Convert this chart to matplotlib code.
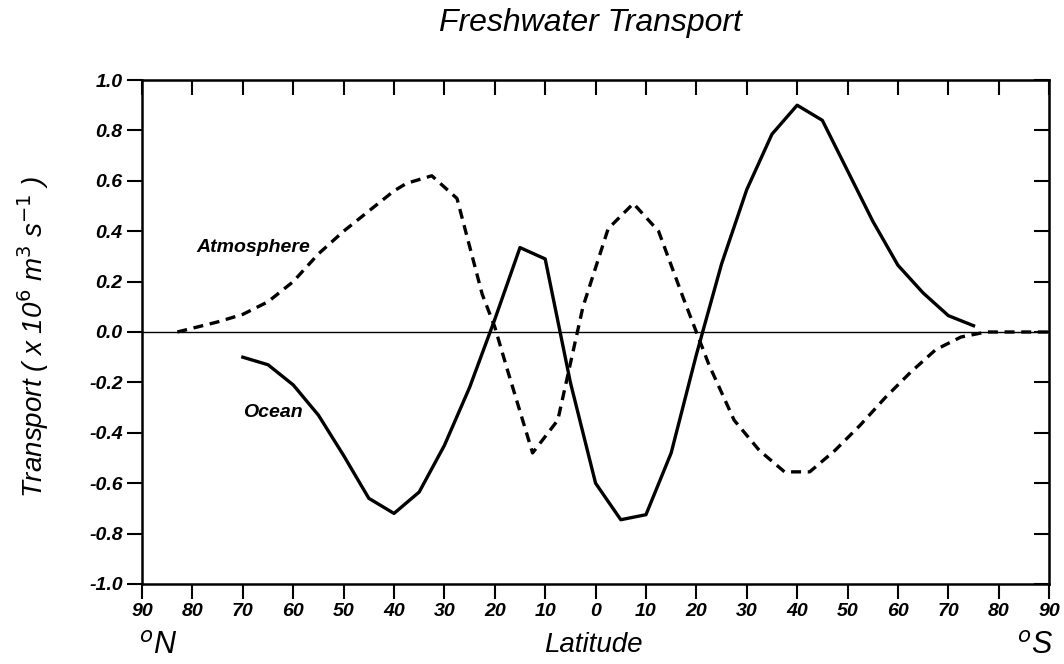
import matplotlib.pyplot as plt

plt.rcParams['font.family'] = ['Liberation Sans', 'DejaVu Sans']

# latitude axis: negative = north, positive = south
atm_lat = [-83, -80, -75, -70, -65, -60, -55, -50, -45, -40, -37.5, -32.5, -27.5,
           -22.5, -20, -17.5, -12.5, -7.5, -2.5, 2.5, 7.5, 12.5, 17.5, 22.5, 27.5,
           32.5, 37.5, 42.5, 47.5, 52.5, 57.5, 62.5, 67.5, 72.5, 77.5, 90]
atm_val = [0.0, 0.015, 0.04, 0.07, 0.12, 0.20, 0.31, 0.40, 0.48, 0.56, 0.59, 0.62, 0.53,
           0.15, 0.02, -0.15, -0.48, -0.35, 0.10, 0.41, 0.51, 0.40, 0.13, -0.13, -0.35,
           -0.47, -0.555, -0.555, -0.47, -0.37, -0.26, -0.16, -0.07, -0.02, 0.0, 0.0]

ocean_lat = [-70, -65, -60, -55, -50, -45, -40, -35, -30, -25, -20, -15, -10, -5,
             0, 5, 10, 15, 20, 25, 30, 35, 40, 45, 50, 55, 60, 65, 70, 75]
ocean_val = [-0.10, -0.13, -0.21, -0.33, -0.49, -0.66, -0.72, -0.635, -0.45, -0.22,
             0.05, 0.335, 0.29, -0.20, -0.60, -0.745, -0.725, -0.48, -0.09, 0.27,
             0.565, 0.785, 0.90, 0.84, 0.64, 0.44, 0.265, 0.155, 0.065, 0.025]

xticks = list(range(-90, 91, 10))
xlabels = [str(abs(t)) for t in xticks]
yticks = [round(-1.0 + 0.2 * i, 1) for i in range(11)]
ylabels = ['%.1f' % t for t in yticks]

fig = plt.figure(figsize=(10.64, 6.64), dpi=100)
ax = fig.add_axes([0.1335, 0.1205, 0.8525, 0.759])

ax.axhline(0, color='black', lw=1.0)
ax.plot(ocean_lat, ocean_val, color='black', lw=2.4)
ax.plot(atm_lat, atm_val, color='black', lw=2.4, dashes=(3.0, 2.0))

ax.set_xlim(-90, 90)
ax.set_ylim(-1.0, 1.0)
ax.set_xticks(xticks)
ax.set_xticklabels(xlabels)
ax.set_yticks(yticks)
ax.set_yticklabels(ylabels)
for lab in ax.get_xticklabels() + ax.get_yticklabels():
    lab.set_fontstyle('italic')
    lab.set_fontweight('bold')
    lab.set_fontsize(14)
ax.tick_params(direction='out', length=11, width=1.5, pad=3)
for s in ax.spines.values():
    s.set_linewidth(1.8)

top = ax.secondary_xaxis('top')
top.set_xticks(xticks)
top.tick_params(direction='in', length=11, width=1.5, labeltop=False)
right = ax.secondary_yaxis('right')
right.set_yticks(yticks)
right.tick_params(direction='in', length=11, width=1.5, labelright=False)

ax.set_ylabel('Transport ( x 10$^6$ m$^3$ s$^{-1}$ )', fontsize=20, fontstyle='italic')
ax.yaxis.set_label_coords(-0.100, 0.49)

ax.text(-68, 0.336, 'Atmosphere', fontsize=14, fontstyle='italic', fontweight='bold',
        ha='center', va='center')
ax.text(-64, -0.32, 'Ocean', fontsize=14, fontstyle='italic', fontweight='bold',
        ha='center', va='center')

fig.text(0.555, 0.965, 'Freshwater Transport', fontsize=23, fontstyle='italic',
         ha='center', va='center')
fig.text(0.558, 0.028, 'Latitude', fontsize=20, fontstyle='italic', ha='center', va='center')
fig.text(0.149, 0.028, '$^o$N', fontsize=22, fontstyle='italic', ha='center', va='center')
fig.text(0.973, 0.028, '$^o$S', fontsize=22, fontstyle='italic', ha='center', va='center')

fig.savefig('out.png', dpi=100)
